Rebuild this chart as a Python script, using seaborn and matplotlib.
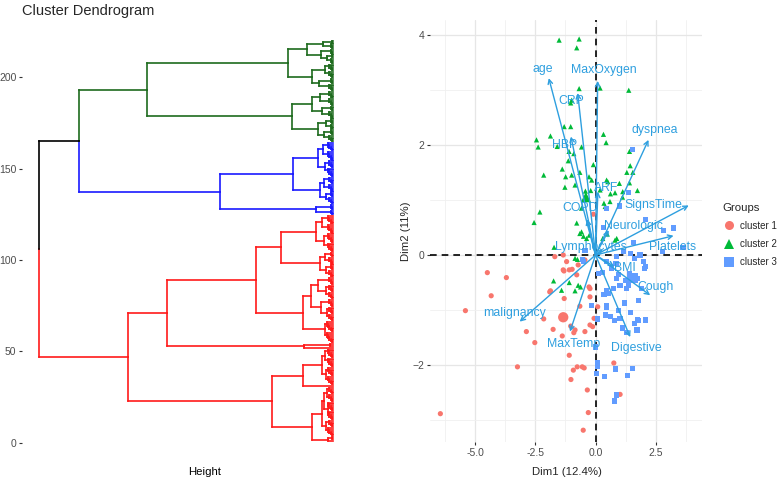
import numpy as np
import pandas as pd
import matplotlib
matplotlib.use("Agg")
import matplotlib.pyplot as plt
import seaborn as sns
from matplotlib.collections import LineCollection
from matplotlib.lines import Line2D

sns.set_theme(style="white")
plt.rcParams['font.family'] = ['Liberation Sans', 'DejaVu Sans']

# ---------------- dendrogram data ----------------
# node = (height, lower_child, upper_child); int = n leaves merged at tiny heights
leaf_merge_heights = [0.12, 0.25, 0.38, 0.5, 0.6, 0.7]

green_tree = (18.6,
              (4.13, (1.5, (0.9, 4, 3), (0.7, 3, 3)),
                     (2.1, (1.1, 4, 3), (1.3, 4, 4))),
              (4.47, (2.1, (1.4, 4, 3), (0.8, 4, 4)),
                     (2.6, (1.2, (0.6, 3, 2), 3), (1.0, 3, 2))))
blue_tree = (11.3,
             (1.7, 3, 3),
             (3.97, (1.3, (0.7, 4, 3), (0.9, 4, 4)),
                    (1.47, (0.8, 5, 4), (1.0, 5, 5))))
red_tree = (20.5,
            (6.07,
             (2.13, (0.5, 1, 2), (1.13, (0.7, 5, 4), (0.9, (0.5, 5, 5), (0.6, 4, 4)))),
             (3.03, 1, (1.13, (0.7, 5, 5), (0.8, 5, 5)))),
            (16.6,
             (2.9, 1, (0.3, 1, 1)),
             (7.73,
              (3.03, (0.8, 6, 6),
                     (2.23, (1.2, (0.6, 4, 4), 4), (1.5, (0.7, 4, 4), 4))),
              (5.2, (1.3, (0.7, 4, 3), (0.8, 4, 3)),
                    (1.7, (0.9, 5, 5), (1.1, 5, 5))))))
dend_tree = (29.4, ('#FF1A1A', red_tree),
             (25.4, ('#1A1AFF', blue_tree), ('#1E6B1E', green_tree)))
dend_yticks = [0, 50, 100, 150, 200]

# ---------------- PCA data ----------------
c1_x = [-4.49, -3.70, -4.33, -5.40, -6.44, -3.24, -2.52, -2.87, -2.15, -1.87, -1.76, -1.38,
        -1.30, -1.34, -1.69, -0.97, -0.78, -0.44, -0.23, -1.03, -0.44, -0.12, -0.06, -1.09,
        -0.76, -0.92, -0.55, -1.02, -0.34, -0.30, -0.51, 0.76, 1.02, -1.20, -1.09, -1.31,
        -0.72, -1.90, 0.09, -0.65, -0.90, -0.85, -0.47, -0.09, -0.27, -0.23, -0.23, -1.34]
c1_y = [-0.32, -0.41, -0.74, -1.01, -2.88, -2.03, -1.59, -1.39, -1.16, -0.65, -1.35, -1.47,
        -0.79, -0.27, -0.03, -0.26, -0.36, -0.09, -0.61, -1.29, -1.39, -1.30, -1.15, -1.82,
        -2.03, -2.09, -2.03, -2.26, -2.45, -2.86, -3.18, -1.96, -2.53, -0.12, -0.27, -0.29,
        -0.18, -0.67, -0.94, -0.93, -1.41, -1.36, -2.05, 0.74, -0.58, -1.27, -0.76, 0.00]
c2_x = [-1.51, -0.68, -0.78, -0.68, 0.19, 1.38, -0.99, -1.03, -1.30, -1.03, -1.87, -2.45,
        -2.38, -1.59, -1.10, -0.90, -0.58, 0.33, 0.44, -1.13, -0.09, -1.38, -2.15, -1.24,
        -0.99, -0.65, -0.27, -0.16, -1.27, -0.85, -0.42, -0.20, 0.19, 0.51, 0.99, 1.41,
        1.74, 0.62, 0.81, 1.30, 1.44, 1.41, 1.55, 1.12, 0.35, 0.40, -0.58, -2.31, -2.55,
        -0.78, -0.65, -0.50, -0.37, 0.30, 0.49, 0.81, -0.85, -0.75, -1.74, -1.41, -1.09,
        -0.85, -0.72, -0.62, -1.72, 0.46, 1.13, 0.60, -0.58, -0.26, 0.88]
c2_y = [3.90, 3.92, 3.76, 3.02, 3.03, 2.99, 2.81, 2.76, 2.33, 2.33, 2.16, 2.09,
        1.96, 1.97, 1.88, 1.84, 1.96, 2.19, 2.04, 1.71, 1.64, 1.56, 1.45, 1.42,
        1.45, 1.50, 1.42, 1.36, 1.23, 1.27, 1.16, 1.17, 1.18, 1.33, 1.30, 1.31,
        1.17, 1.11, 1.13, 1.50, 1.62, 1.88, 1.50, 1.05, 0.94, 0.88, 0.85, 0.78, 0.59,
        0.58, 0.39, 0.34, 0.30, 0.30, 0.38, 0.27, -0.06, -0.08, -0.47, -0.64, -0.50,
        -0.65, -0.55, -0.58, 0.14, 1.36, 1.15, 0.97, 0.42, 0.36, 0.30]
c3_x = [1.53, 1.37, 0.99, 0.47, 2.09, 2.83, 3.24, 0.33, 1.58, 2.78, 0.88, 1.16, 1.44,
        1.85, 1.62, 1.99, 2.03, 0.47, 0.12, 0.67, 0.95, 1.23, 1.37, 1.02, 0.74, 1.72,
        1.92, 0.47, -0.51, 3.63, 2.06, 0.28, 0.85, 1.41, 0.88, 1.30, 1.58, 1.78, 1.20,
        0.47, -0.16, 0.35, 0.53, 0.44, 0.09, 0.42, 0.63, 0.78, 0.95, 1.44, 1.62, 1.76,
        2.06, 1.72, 1.12, 1.30, 0.01, 0.09, 0.09, 0.05, 0.37, 0.84, 1.34, 1.55, 0.88,
        0.78, -0.44, -0.53, 1.02, 1.13, 1.74, 2.09]
c3_y = [1.92, 1.13, 0.89, 0.85, 0.65, 0.44, 0.49, 0.50, 0.23, 0.06, -0.03, 0.06, 0.03,
        0.00, -0.06, -0.12, -0.24, -0.12, -0.33, -0.24, -0.36, -0.47, -0.55, -0.55, -0.61, -0.42,
        -0.61, -0.64, -0.12, 0.14, -0.21, -0.32, -0.15, -0.33, -0.42, -0.61, -0.39, -0.82, -0.87,
        -0.91, -0.91, -0.71, -0.70, -0.95, -1.16, -1.09, -1.11, -1.19, -1.01, -1.04, -1.25, -1.19,
        -1.18, -1.36, -1.31, -1.41, -1.67, -1.96, -2.02, -2.15, -2.21, -2.07, -2.19, -2.06, -2.54,
        -2.65, 0.08, -0.08, -1.15, -1.33, -1.18, -1.17]
group_names = ['cluster 1', 'cluster 2', 'cluster 3']
centroid_x = [-1.34, -0.40, 1.53]
centroid_y = [-1.13, 1.05, -0.42]

var_names = ['age', 'MaxOxygen', 'CRP', 'HBP', 'dyspnea', 'ARF', 'COPD', 'SignsTime',
             'Neurologic', 'Platelets', 'Lymphocytes', 'BMI', 'Cough', 'malignancy',
             'MaxTemp', 'Digestive']
var_x = [-1.94, 0.09, -0.74, -1.02, 2.20, 0.10, -0.35, 3.87, 0.55, 3.24, 0.30, 0.78, 2.27,
         -3.15, -1.06, 1.44]
var_y = [3.21, 3.16, 2.94, 2.15, 2.09, 1.15, 0.65, 0.90, 0.45, 0.35, 0.10, -0.21, -0.73,
         -1.21, -1.39, -1.49]
lab_x = [-2.17, 0.33, -1.02, -1.27, 2.45, 0.46, -0.62, 2.41, 1.58, 3.20, -0.20, 1.20, 2.50,
         -3.38, -0.90, 1.69]
lab_y = [3.38, 3.35, 2.79, 1.99, 2.26, 1.21, 0.85, 0.90, 0.53, 0.15, 0.14, -0.24, -0.58,
         -1.06, -1.62, -1.68]

W, H = 782, 480
fig = plt.figure(figsize=(W / 100, H / 100), dpi=100)

# ---------------- dendrogram ----------------
axd = fig.add_axes([22 / W, (H - 455) / H, (340 - 22) / W, (455 - 30) / H])
segs = {}


def add(color, seg):
    segs.setdefault(color, []).append(seg)


def layout(node, start, color):
    """returns (y, height, n_leaves); draws links to children"""
    if isinstance(node, tuple) and isinstance(node[0], str):
        return layout(node[1], start, node[0])
    if isinstance(node, int):
        y, h = float(start), 0.0
        for i in range(1, node):
            hn = leaf_merge_heights[i - 1]
            yl = float(start + i)
            add(color, [(hn, y), (hn, yl)])
            add(color, [(h, y), (hn, y)])
            add(color, [(0.0, yl), (hn, yl)])
            y, h = (y + yl) / 2, hn
        return y, h, node
    hgt, a, b = node
    ca = a[0] if isinstance(a, tuple) and isinstance(a[0], str) else color
    cb = b[0] if isinstance(b, tuple) and isinstance(b[0], str) else color
    ya, ha, na = layout(a, start, color)
    yb, hb, nb = layout(b, start + na, color)
    ym = (ya + yb) / 2
    add(ca, [(hgt, ym), (hgt, ya)])
    add(ca, [(hgt, ya), (ha, ya)])
    add(cb, [(hgt, ym), (hgt, yb)])
    add(cb, [(hgt, yb), (hb, yb)])
    return ym, hgt, na + nb


layout(dend_tree, 1, '#000000')
for col, s in segs.items():
    axd.add_collection(LineCollection(s, colors=col, linewidths=1.2, capstyle='projecting'))
axd.set_xlim(31.1, -0.7)
axd.set_ylim(-6.73, 225.9)
axd.set_yticks(dend_yticks)
axd.set_yticklabels([str(v) for v in dend_yticks])
axd.set_xticks([])
for sp in axd.spines.values():
    sp.set_visible(False)
axd.tick_params(axis='y', left=True, length=2.5, width=0.8, color='#333333',
                labelsize=7.5, labelcolor='#4D4D4D', pad=1.5)
axd.set_xlabel('Height', fontsize=8.2, color='black')
axd.xaxis.set_label_coords((205 - 22) / (340 - 22), -(472 - 455) / (455 - 30), transform=axd.transAxes)
axd.xaxis.label.set_va('center')
fig.text(22 / W, 1 - 11 / H, 'Cluster Dendrogram', fontsize=10.5, ha='left', va='center')

# ---------------- PCA biplot ----------------
axp = fig.add_axes([430 / W, (H - 442) / H, 272 / W, 422 / H])
df = pd.DataFrame({
    'Dim1': c1_x + c2_x + c3_x,
    'Dim2': c1_y + c2_y + c3_y,
    'Groups': [group_names[0]] * len(c1_x) + [group_names[1]] * len(c2_x) + [group_names[2]] * len(c3_x),
})
pal = {'cluster 1': '#F8766D', 'cluster 2': '#00BA38', 'cluster 3': '#619CFF'}
mk = {'cluster 1': 'o', 'cluster 2': '^', 'cluster 3': 's'}
axp.set_xlim(-6.87, 4.42)
axp.set_ylim(-3.394, 4.265)
axp.set_xticks([-5, -2.5, 0, 2.5])
axp.set_xticklabels(['-5.0', '-2.5', '0.0', '2.5'])
axp.set_xticks([-6.25, -3.75, -1.25, 1.25, 3.75], minor=True)
axp.set_yticks([-2, 0, 2, 4])
axp.set_yticks([-3, -1, 1, 3], minor=True)
axp.grid(True, which='major', color='#E6E6E6', lw=0.9, zorder=0)
axp.grid(True, which='minor', color='#F0F0F0', lw=0.6, zorder=0)
axp.set_axisbelow(True)
for sp in axp.spines.values():
    sp.set_visible(False)
axp.tick_params(which='major', length=2.5, width=0.8, color='#333333', labelsize=7.5,
                labelcolor='#4D4D4D', pad=1.5, bottom=True, left=True)
axp.tick_params(which='minor', length=0)

axp.axhline(0, color='black', lw=1.2, dashes=(4, 3), zorder=1)
axp.axvline(0, color='black', lw=1.2, dashes=(4, 3), zorder=1)

sns.scatterplot(data=df, x='Dim1', y='Dim2', hue='Groups', style='Groups', palette=pal,
                markers=mk, s=14, linewidth=0, ax=axp, legend=False, zorder=2)
cdf = pd.DataFrame({'Dim1': centroid_x, 'Dim2': centroid_y, 'Groups': group_names})
sns.scatterplot(data=cdf, x='Dim1', y='Dim2', hue='Groups', style='Groups', palette=pal,
                markers=mk, s=55, linewidth=0, ax=axp, legend=False, zorder=2)

arrow_col = '#2E9FDF'
for name, tx, ty, lx, ly in zip(var_names, var_x, var_y, lab_x, lab_y):
    axp.annotate('', xy=(tx, ty), xytext=(0, 0),
                 arrowprops=dict(arrowstyle='->', color=arrow_col, lw=1.0,
                                 shrinkA=0, shrinkB=0, mutation_scale=8), zorder=3)
    axp.text(lx, ly, name, color=arrow_col, fontsize=8.8, ha='center', va='center', zorder=4)

axp.set_xlabel('Dim1 (12.4%)', fontsize=8.2)
axp.set_ylabel('Dim2 (11%)', fontsize=8.2)
axp.xaxis.set_label_coords((567 - 430) / 272, -(472 - 442) / 422)
axp.yaxis.set_label_coords(-(430 - 406) / 272, (442 - 231) / 422)
axp.xaxis.label.set_va('center')
axp.yaxis.label.set_va('center')

handles = [Line2D([0], [0], marker=mk[g], color='none', markerfacecolor=pal[g],
                  markeredgewidth=0, markersize=6.5) for g in group_names]
leg = fig.legend(handles, group_names, title='Groups', loc='center left',
                 bbox_to_anchor=(718 / W, 1 - 235 / H), frameon=False, fontsize=7,
                 title_fontsize=8.2, handlelength=1.2, handletextpad=0.6,
                 labelspacing=0.85, borderpad=0)
leg._legend_box.align = 'left'

fig.savefig('out.png', dpi=100)
